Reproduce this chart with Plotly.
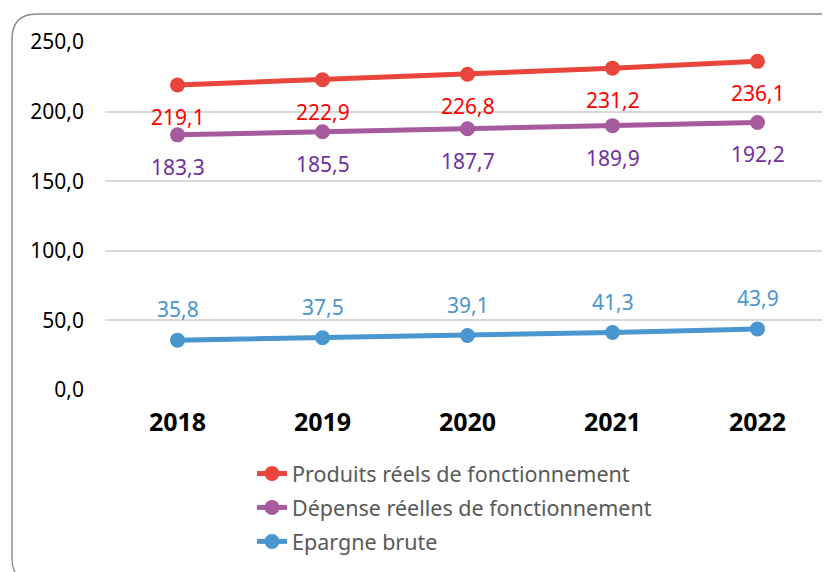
import plotly.graph_objects as go

years = ["2018", "2019", "2020", "2021", "2022"]
produits = [219.1, 222.9, 226.8, 231.2, 236.1]
depenses = [183.3, 185.5, 187.7, 189.9, 192.2]
epargne = [35.8, 37.5, 39.1, 41.3, 43.9]

series = [
    ("Produits réels de fonctionnement", produits, "#E8453C", "#FF0000", -32),
    ("Dépense réelles de fonctionnement", depenses, "#A65B9E", "#7030A0", -32),
    ("Epargne brute", epargne, "#4A96D0", "#4A96D0", 31),
]

FONT = "Noto Sans"
OFF = 8  # page body margin
W, H = 830, 572
L, R, T, B = 97, 8, 34, 190
pw, ph = W - L - R, H - T - B


def px(xs):
    return (xs - OFF - L) / pw


def py(ys):
    return (H - B - (ys - OFF)) / ph


fig = go.Figure()
annotations = []
for k, (name, vals, lc, tc, shift) in enumerate(series):
    fig.add_trace(go.Scatter(
        x=years, y=vals, name=name, mode="lines+markers", legendgroup=f"g{k}",
        line=dict(color=lc, width=5), marker=dict(color=lc, size=15),
    ))
    for i, yv in enumerate(vals):
        annotations.append(dict(
            x=i, y=yv, xref="x", yref="y", text=f"{yv:.1f}".replace(".", ","),
            showarrow=False, yshift=shift, font=dict(family=FONT, size=21, color=tc),
        ))

x0, x1, y0, y1 = px(12), px(848), py(14), py(583)
rx, ry = 25 / pw, 25 / ph
path = (f"M {x0+rx},{y0} L {x1-rx},{y0} Q {x1},{y0} {x1},{y0-ry} "
        f"L {x1},{y1+ry} Q {x1},{y1} {x1-rx},{y1} L {x0+rx},{y1} "
        f"Q {x0},{y1} {x0},{y1+ry} L {x0},{y0-ry} Q {x0},{y0} {x0+rx},{y0} Z")

fig.update_layout(
    width=W, height=H,
    margin=dict(l=L, r=R, t=T, b=B),
    paper_bgcolor="white", plot_bgcolor="white",
    separators=", ",
    font=dict(family=FONT, size=18, color="#000000"),
    showlegend=True,
    legend=dict(
        x=px(252), y=py(453), xanchor="left", yanchor="top",
        font=dict(family=FONT, size=21.5, color="#595959"),
        tracegroupgap=3, itemwidth=30, bgcolor="rgba(0,0,0,0)",
    ),
    annotations=annotations,
    shapes=[dict(type="path", path=path, xref="paper", yref="paper",
                 line=dict(color="#8C8C8C", width=1.5), fillcolor="rgba(0,0,0,0)", layer="below")],
    xaxis=dict(
        type="category", range=[-0.5, 4.5], showgrid=False, showline=False, zeroline=False,
        tickfont=dict(family=FONT, size=25, color="#000000", weight="bold"),
        ticks="", ticklabelstandoff=15,
    ),
    yaxis=dict(
        range=[0, 250], dtick=50, tickformat=".1f", showgrid=True,
        gridcolor="#D9D9D9", gridwidth=2, zeroline=False, showline=False,
        tickfont=dict(family=FONT, size=21, color="#000000"),
        ticks="", ticklabelstandoff=20,
    ),
)
fig.write_html("out.html")
